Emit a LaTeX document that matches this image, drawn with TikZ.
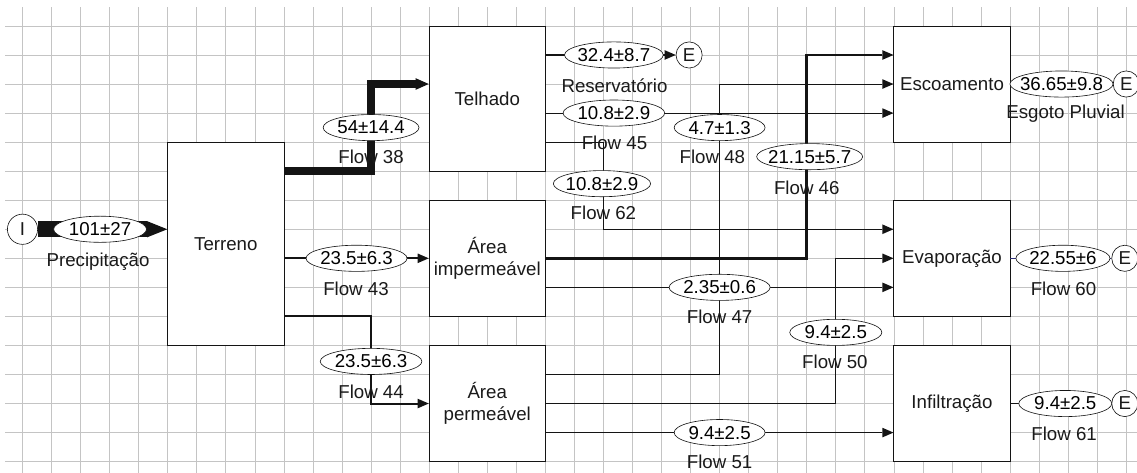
\documentclass[tikz,border=0pt]{standalone}
\usepackage{fontspec}
\setmainfont{Liberation Sans}
\usepackage{xcolor}
\definecolor{sd-grid}{HTML}{C4C4C4}
\definecolor{sd-ink}{HTML}{141414}
\definecolor{sd-text}{HTML}{1A1A1A}
\definecolor{sd-out}{HTML}{30307A}
\usetikzlibrary{arrows.meta,shapes.geometric}
\tikzset{
    box/.style={draw=sd-ink, fill=white, line width=0.8pt, minimum width=4cm, minimum height=#1cm, align=center, inner sep=0pt, text=sd-text},
    val/.style n args={2}{ellipse, draw=sd-ink, fill=white, line width=0.6pt, inner sep=0pt, minimum height=0.9cm, minimum width=#1cm, label={center:#2}},
    port/.style={circle, draw=sd-ink, fill=white, line width=0.6pt, inner sep=0pt, minimum size=#1cm, text=sd-text},
}

\begin{document}
\begin{tikzpicture}[
    x=1cm, y=-1cm,
    font=\fontsize{18.3}{21.5}\selectfont,
    >={Triangle[length=0.38cm,width=0.33cm,line width=0pt]},
    gridline/.style={draw=sd-grid, line width=0.7pt},
    tag/.style={inner sep=0pt, text=sd-text},
    flow/.style={->, draw=sd-ink, line width=0.8pt},
]
\useasboundingbox (-0.775,-0.893) rectangle (38.37,15.36);
\fill[white] (-0.775,-0.893) rectangle (38.37,15.36);

% grid
\foreach \gx in {0,...,38} \draw[gridline] (\gx,-0.65) -- (\gx,15.5);
\foreach \gy in {0,...,15} \draw[gridline] (-0.6,\gy) -- (38.5,\gy);

% stocks
\node[box=7] (terreno) at (7,7.5) {Terreno};
\node[box=5] (telhado) at (16,2.5) {Telhado};
\node[box=4] (aimp) at (16,8) {Área\\impermeável};
\node[box=4] (aperm) at (16,13) {Área\\permeável};
\node[box=4] (escoa) at (32,2) {Escoamento};
\node[box=4] (evapo) at (32,8) {Evaporação};
\node[box=4] (infil) at (32,13) {Infiltração};

% sources and sinks
\node[port=1.04] (ein) at (0,7) {I};
\node[port=0.9] (eres) at (22.95,1) {E};
\node[port=0.9] (eesg) at (38,2) {E};
\node[port=0.9] (eevap) at (37.95,8) {E};
\node[port=0.9] (einf) at (37.95,13) {E};

% flows
\draw[draw=sd-ink, line width=16pt, -{Triangle[length=0.7cm,width=0.56cm,line width=0pt]}] (ein.east) -- (terreno.west |- ein);
\draw[flow, line width=8pt, -{Triangle[length=0.45cm,width=0.4cm,line width=0pt]}] (terreno.east |- 0,5) -- (12,5) |- (telhado.west |- 0,2);
\draw[flow, line width=2pt] (terreno.east |- 0,8) -- (aimp.west |- 0,8);
\draw[flow, line width=2pt] (terreno.east |- 0,10) -- (12,10) |- (aperm.west |- 0,13);
\draw[flow, line width=2.6pt] (telhado.east |- eres) -- (eres.west);
\draw[flow] (telhado.east |- 0,3) -- (escoa.west |- 0,3);
\draw[flow] (telhado.east |- 0,4) -- (20,4) |- (evapo.west |- 0,7);
\draw[flow] (aperm.east |- 0,12) -- (24,12) |- (escoa.west |- 0,2);
\draw[flow, line width=2.6pt] (aimp.east |- 0,8) -- (27,8) |- (escoa.west |- 0,1);
\draw[flow] (aimp.east |- 0,9) -- (evapo.west |- 0,9);
\draw[flow] (aperm.east |- 0,13) -- (28,13) |- (evapo.west |- 0,8);
\draw[flow] (aperm.east |- 0,14) -- (infil.west |- 0,14);
\draw[flow, -] (escoa.east) -- (eesg.west);
\draw[flow, -, draw=sd-out, line width=1.4pt] (evapo.east) -- (eevap.west);
\draw[flow, -] (infil.east) -- (einf.west);

% flow values
\node[val={3.2}{101±27}] (v0) at (2.67,7) {};
\node[val={3.3}{54±14.4}] (v38) at (12,3.5) {};
\node[val={3.48}{23.5±6.3}] (v43) at (11.5,8) {};
\node[val={3.5}{23.5±6.3}] (v44) at (12,11.55) {};
\node[val={3.4}{32.4±8.7}] (vres) at (20.36,1) {};
\node[val={3.5}{10.8±2.9}] (v45) at (20.36,3) {};
\node[val={3.35}{10.8±2.9}] (v62) at (19.95,5.43) {};
\node[val={3.13}{4.7±1.3}] (v48) at (24,3.5) {};
\node[val={3.65}{21.15±5.7}] (v46) at (27.1,4.5) {};
\node[val={3.48}{2.35±0.6}] (v47) at (24,9) {};
\node[val={3.17}{9.4±2.5}] (v50) at (28,10.55) {};
\node[val={3.13}{9.4±2.5}] (v51) at (24,14) {};
\node[val={3.55}{36.65±9.8}] (vesg) at (35.77,2) {};
\node[val={3.24}{22.55±6}] (v60) at (35.82,8) {};
\node[val={3.2}{9.4±2.5}] (v61) at (35.9,13) {};

% flow names
\node[tag] (t0) at (2.6,8.12) {Precipitação};
\node[tag] (t38) at (12,4.5) {Flow 38};
\node[tag] (t43) at (11.48,9.04) {Flow 43};
\node[tag] (t44) at (12,12.58) {Flow 44};
\node[tag] (tres) at (20.38,2.06) {Reservatório};
\node[tag] (t45) at (20.38,4.02) {Flow 45};
\node[tag] (t62) at (20,6.43) {Flow 62};
\node[tag] (t48) at (23.75,4.5) {Flow 48};
\node[tag] (t46) at (27,5.57) {Flow 46};
\node[tag] (t47) at (24,10.03) {Flow 47};
\node[tag] (t50) at (27.97,11.55) {Flow 50};
\node[tag] (t51) at (24,15.02) {Flow 51};
\node[tag] (tesg) at (35.91,3.02) {Esgoto Pluvial};
\node[tag] (t60) at (35.84,9.04) {Flow 60};
\node[tag] (t61) at (35.86,14.05) {Flow 61};
\end{tikzpicture}
\end{document}
